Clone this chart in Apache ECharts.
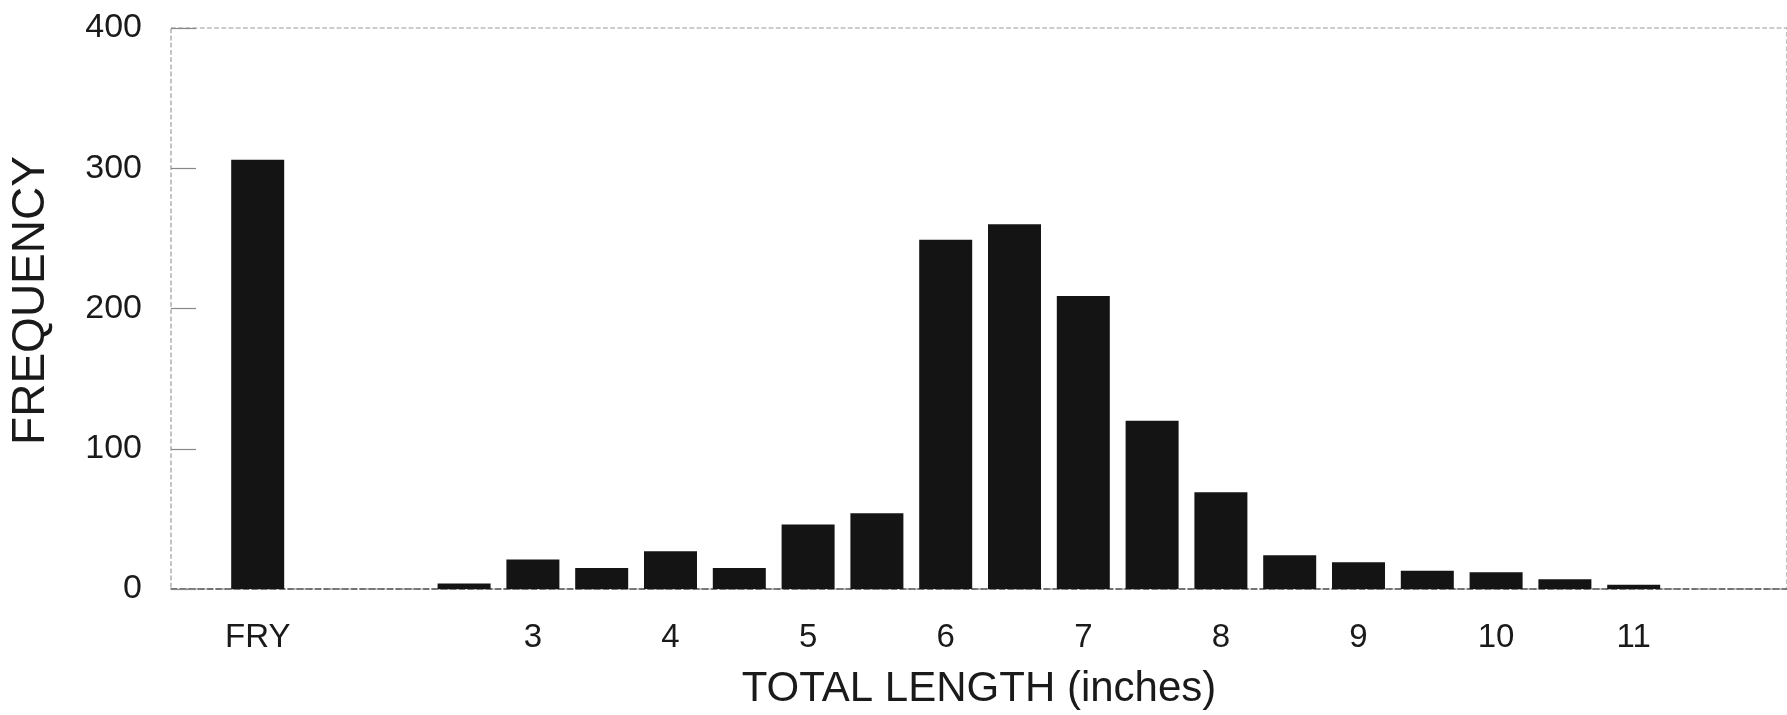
<!DOCTYPE html>
<html>
<head>
<meta charset="utf-8">
<script src="https://cdn.jsdelivr.net/npm/echarts@6/dist/echarts.min.js"></script>
<style>
html,body{margin:0;padding:0;background:#fff;}
#chart{width:1787px;height:715px;}
</style>
</head>
<body>
<div id="chart"></div>
<script>
// Length bins (inches); FRY is plotted at position 1
const binLabels = ['FRY','2.5','3','3.5','4','4.5','5','5.5','6','6.5','7','7.5','8','8.5','9','9.5','10','10.5','11'];
const binPositions = [1,2.5,3,3.5,4,4.5,5,5.5,6,6.5,7,7.5,8,8.5,9,9.5,10,10.5,11];
const frequency = [306,4,21,15,27,15,46,54,249,260,209,120,69,24,19,13,12,7,3];
const xTickValues = [1,3,4,5,6,7,8,9,10,11];
const xTickLabels = ['FRY','3','4','5','6','7','8','9','10','11'];
const yTicks = [0,100,200,300,400];

const chart = echarts.init(document.getElementById('chart'));
const FONT = 'Liberation Sans, Arial, sans-serif';
chart.setOption({
  animation: false,
  backgroundColor: '#ffffff',
  grid: {
    left: 167, right: -3, top: 28, bottom: 118,
    show: true, borderColor: '#9a9a9a', borderWidth: 1.2,
    borderType: 'dashed', backgroundColor: 'transparent'
  },
  xAxis: {
    type: 'value',
    min: 0.37, max: 12.114,
    splitLine: {show: false},
    axisLine: {show: true, lineStyle: {color: '#555', width: 1.5, type: 'dashed'}},
    axisTick: {show: false},
    axisLabel: {
      customValues: xTickValues,
      formatter: function (v) {
        const i = xTickValues.indexOf(v);
        return i >= 0 ? xTickLabels[i] : '';
      },
      fontFamily: FONT, fontSize: 33, color: '#1a1a1a', margin: 32
    },
    name: 'TOTAL LENGTH (inches)',
    nameLocation: 'middle',
    nameGap: 79,
    nameTextStyle: {fontFamily: FONT, fontSize: 42, color: '#1a1a1a'}
  },
  yAxis: {
    type: 'value',
    min: yTicks[0], max: yTicks[yTicks.length - 1], interval: 100,
    splitLine: {show: false},
    axisLine: {show: false},
    axisTick: {show: true, inside: true, length: 25, lineStyle: {color: '#888', width: 1.2}},
    axisLabel: {fontFamily: FONT, fontSize: 34, color: '#1a1a1a', margin: 29},
    name: 'FREQUENCY',
    nameLocation: 'middle',
    nameRotate: 90,
    nameGap: 117,
    nameTextStyle: {fontFamily: FONT, fontSize: 46, color: '#1a1a1a', padding: [0, 0, 0, 16]}
  },
  series: [{
    type: 'bar',
    barWidth: 53,
    itemStyle: {color: '#141414'},
    data: binPositions.map((x, i) => ({name: binLabels[i], value: [x, frequency[i]]}))
  }]
});
</script>
</body>
</html>
